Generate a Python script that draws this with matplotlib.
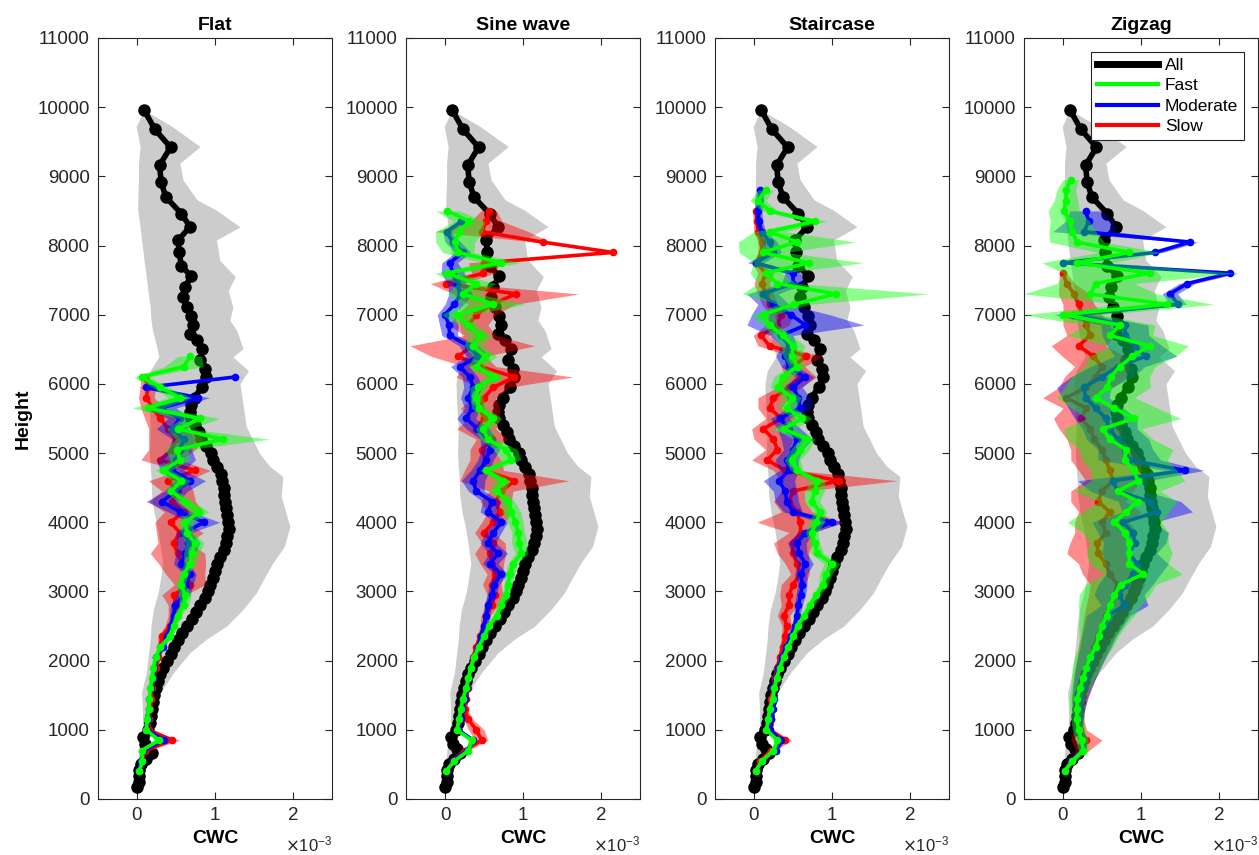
import numpy as np
import matplotlib
matplotlib.use("Agg")
import matplotlib.pyplot as plt
from matplotlib.lines import Line2D

plt.rcParams['font.family'] = ['Liberation Sans', 'DejaVu Sans']

# CWC values are in units of 1e-3

# ---- "All" profile (same in every panel) ----
h_all = [170, 250, 330, 420, 500, 580, 670, 720, 800, 900, 1000, 1100, 1200, 1300, 1400,
         1500, 1600, 1700, 1800, 1900, 2000, 2100, 2200, 2300, 2400, 2500, 2600, 2700, 2800,
         2900, 3000, 3100, 3200, 3300, 3400, 3500, 3600, 3700, 3800, 3900, 4000, 4100, 4200,
         4300, 4400, 4500, 4600, 4700, 4800, 4900, 5000, 5100, 5200, 5300, 5400, 5500, 5600,
         5700, 5800, 5960, 6100, 6220, 6340, 6510, 6630, 6720, 6850, 6980, 7110, 7260, 7400,
         7560, 7710, 7900, 8080, 8270, 8460, 8700, 8920, 9160, 9420, 9680, 9960]
cwc_all = [0.00, 0.02, 0.03, 0.02, 0.05, 0.12, 0.19, 0.15, 0.10, 0.08, 0.14, 0.17, 0.18, 0.19, 0.20,
           0.22, 0.24, 0.27, 0.30, 0.33, 0.38, 0.43, 0.48, 0.53, 0.58, 0.64, 0.70, 0.76, 0.81,
           0.87, 0.91, 0.94, 0.97, 1.00, 1.02, 1.06, 1.11, 1.14, 1.16, 1.18, 1.17, 1.15, 1.14,
           1.13, 1.12, 1.11, 1.09, 1.08, 1.02, 0.98, 0.95, 0.88, 0.82, 0.80, 0.74, 0.69, 0.68,
           0.69, 0.74, 0.83, 0.89, 0.87, 0.81, 0.84, 0.77, 0.68, 0.72, 0.69, 0.64, 0.59, 0.62,
           0.69, 0.57, 0.54, 0.53, 0.68, 0.57, 0.37, 0.31, 0.29, 0.43, 0.23, 0.09]

# grey envelope of "All"
h_band = [190, 530, 770, 1060, 1300, 1540, 1830, 2115, 2310, 2500, 2740, 2980, 3170, 3410,
          3650, 3940, 4135, 4375, 4660, 4810, 5000, 5385, 5700, 6000, 6190, 6390, 6510, 6770,
          6920, 7110, 7350, 7550, 7790, 8080, 8270, 8510, 8660, 8950, 9190, 9430, 9720, 9960]
band_lo = [-0.02, 0.01, 0.03, 0.07, 0.07, 0.06, 0.12, 0.15, 0.17, 0.18, 0.21, 0.27, 0.30, 0.33,
           0.30, 0.26, 0.22, 0.19, 0.18, 0.17, 0.16, 0.17, 0.15, 0.14, 0.17, 0.28, 0.26, 0.20,
           0.18, 0.17, 0.14, 0.12, 0.09, 0.06, 0.04, 0.01, 0.01, 0.02, 0.02, 0.04, -0.01, 0.09]
band_hi = [0.02, 0.09, 0.13, 0.13, 0.21, 0.30, 0.47, 0.68, 0.89, 1.15, 1.36, 1.53, 1.62, 1.74,
           1.89, 1.96, 1.91, 1.85, 1.87, 1.70, 1.57, 1.40, 1.36, 1.32, 1.43, 1.23, 1.36, 1.28,
           1.19, 1.23, 1.17, 1.26, 1.06, 1.02, 1.32, 1.02, 0.77, 0.59, 0.55, 0.81, 0.45, 0.09]

# ---- speed groups: mean and spread on 150 m levels starting at 400 m ----
h_speed = np.arange(400, 9100, 150)

flat_fast = [0.03, 0.07, 0.06, 0.28, 0.12, 0.13, 0.15, 0.16, 0.17, 0.19,
             0.21, 0.24, 0.30, 0.42, 0.47, 0.52, 0.60, 0.62, 0.56, 0.60,
             0.68, 0.70, 0.74, 0.64, 0.62, 0.80, 0.62, 0.44, 0.57, 0.34,
             0.55, 0.51, 1.10, 0.53, 0.81, 0.14, 0.55, 0.30, 0.06, 0.60,
             0.68]
flat_fast_sd = [0.01, 0.02, 0.02, 0.05, 0.02, 0.02, 0.02, 0.02, 0.02, 0.03,
                0.03, 0.03, 0.03, 0.04, 0.04, 0.05, 0.06, 0.08, 0.06, 0.05,
                0.08, 0.10, 0.12, 0.08, 0.10, 0.12, 0.10, 0.08, 0.12, 0.10,
                0.12, 0.15, 0.60, 0.15, 0.25, 0.20, 0.15, 0.10, 0.10, 0.25,
                0.15]
flat_mod = [0.02, 0.05, 0.08, 0.35, 0.13, 0.14, 0.15, 0.16, 0.18, 0.20,
            0.22, 0.25, 0.33, 0.38, 0.44, 0.47, 0.49, 0.60, 0.62, 0.68,
            0.57, 0.62, 0.66, 0.60, 0.86, 0.55, 0.32, 0.50, 0.68, 0.45,
            0.50, 0.55, 0.60, 0.45, 0.55, 0.30, 0.78, 0.12, 1.26]
flat_mod_sd = [0.01, 0.02, 0.02, 0.04, 0.02, 0.02, 0.02, 0.02, 0.02, 0.03,
               0.03, 0.03, 0.03, 0.04, 0.04, 0.05, 0.06, 0.08, 0.10, 0.08,
               0.10, 0.12, 0.15, 0.10, 0.20, 0.15, 0.20, 0.15, 0.20, 0.15,
               0.25, 0.15, 0.15, 0.20, 0.15, 0.20, 0.15, 0.10, 0.10]
flat_slow = [0.03, 0.06, 0.10, 0.45, 0.15, 0.15, 0.17, 0.18, 0.19, 0.21,
             0.24, 0.27, 0.30, 0.32, 0.42, 0.48, 0.50, 0.47, 0.68, 0.62,
             0.58, 0.52, 0.47, 0.55, 0.43, 0.60, 0.45, 0.52, 0.40, 0.74,
             0.30, 0.45, 0.50, 0.40, 0.30, 0.20, 0.12, 0.14, 0.10]
flat_slow_sd = [0.01, 0.02, 0.05, 0.10, 0.03, 0.02, 0.02, 0.02, 0.02, 0.03,
                0.03, 0.03, 0.04, 0.05, 0.06, 0.08, 0.10, 0.15, 0.20, 0.25,
                0.30, 0.35, 0.20, 0.30, 0.20, 0.25, 0.30, 0.20, 0.25, 0.20,
                0.25, 0.30, 0.35, 0.25, 0.20, 0.15, 0.10, 0.10, 0.05]

sine_fast = [0.01, 0.12, 0.30, 0.34, 0.15, 0.18, 0.20, 0.23, 0.27, 0.30,
             0.33, 0.37, 0.43, 0.50, 0.56, 0.66, 0.72, 0.78, 0.81, 0.83,
             0.87, 0.98, 0.95, 0.94, 0.90, 0.85, 0.81, 0.66, 0.74, 0.53,
             0.85, 0.78, 0.55, 0.49, 0.61, 0.44, 0.40, 0.42, 0.64, 0.40,
             0.51, 0.36, 0.45, 0.30, 0.15, 0.62, 0.23, 0.40, 0.02, 0.72,
             0.17, 0.13, 0.18, 0.31, 0.03]
sine_fast_sd = [0.01, 0.02, 0.03, 0.04, 0.02, 0.02, 0.02, 0.02, 0.02, 0.02,
                0.02, 0.03, 0.03, 0.03, 0.04, 0.04, 0.05, 0.05, 0.05, 0.06,
                0.06, 0.08, 0.10, 0.08, 0.10, 0.12, 0.08, 0.10, 0.10, 0.08,
                0.12, 0.15, 0.10, 0.10, 0.12, 0.10, 0.08, 0.10, 0.12, 0.10,
                0.15, 0.12, 0.15, 0.10, 0.20, 0.40, 0.20, 0.25, 0.15, 0.25,
                0.20, 0.25, 0.30, 0.20, 0.15]
sine_mod = [0.02, 0.10, 0.28, 0.36, 0.17, 0.20, 0.22, 0.25, 0.28, 0.30,
            0.33, 0.37, 0.42, 0.46, 0.50, 0.53, 0.55, 0.60, 0.63, 0.72,
            0.58, 0.68, 0.55, 0.62, 0.72, 0.55, 0.60, 0.40, 0.36, 0.45,
            0.52, 0.58, 0.55, 0.42, 0.27, 0.35, 0.30, 0.36, 0.32, 0.19,
            0.42, 0.30, 0.06, 0.05, 0.00, 0.12, 0.20, 0.15, 0.10, 0.06,
            0.23, 0.10, 0.02, 0.21]
sine_mod_sd = [0.01, 0.02, 0.03, 0.04, 0.02, 0.02, 0.02, 0.02, 0.02, 0.02,
               0.02, 0.03, 0.03, 0.03, 0.04, 0.04, 0.05, 0.06, 0.06, 0.08,
               0.10, 0.12, 0.10, 0.10, 0.08, 0.10, 0.12, 0.10, 0.15, 0.12,
               0.10, 0.12, 0.10, 0.15, 0.12, 0.10, 0.10, 0.12, 0.10, 0.12,
               0.15, 0.12, 0.10, 0.12, 0.10, 0.12, 0.15, 0.12, 0.15, 0.10,
               0.10, 0.10, 0.05, 0.05]
sine_slow = [0.02, 0.10, 0.25, 0.47, 0.40, 0.30, 0.25, 0.27, 0.29, 0.30,
             0.33, 0.36, 0.40, 0.45, 0.50, 0.52, 0.60, 0.64, 0.60, 0.64,
             0.60, 0.58, 0.62, 0.50, 0.62, 0.70, 0.65, 0.72, 0.89, 0.50,
             0.52, 0.47, 0.60, 0.40, 0.50, 0.45, 0.50, 0.62, 0.89, 0.45,
             0.17, 0.35, 0.45, 0.30, 0.40, 0.60, 0.91, 0.01, 0.49, 0.50,
             2.15, 1.25, 0.47, 0.53, 0.56]
sine_slow_sd = [0.01, 0.02, 0.05, 0.08, 0.10, 0.06, 0.03, 0.02, 0.02, 0.02,
                0.03, 0.03, 0.03, 0.04, 0.05, 0.06, 0.08, 0.10, 0.12, 0.10,
                0.15, 0.20, 0.15, 0.12, 0.15, 0.15, 0.20, 0.15, 0.70, 0.25,
                0.20, 0.15, 0.20, 0.25, 0.20, 0.25, 0.15, 0.20, 0.75, 0.20,
                0.35, 0.80, 0.20, 0.25, 0.25, 0.30, 0.80, 0.20, 0.15, 0.20,
                0.05, 0.10, 0.60, 0.20, 0.10]

stair_fast = [0.02, 0.10, 0.25, 0.30, 0.16, 0.18, 0.20, 0.24, 0.26, 0.29,
              0.33, 0.38, 0.44, 0.50, 0.56, 0.64, 0.72, 0.80, 0.89, 0.92,
              1.00, 0.81, 0.78, 0.74, 0.80, 0.85, 0.74, 0.78, 0.81, 0.55,
              0.49, 0.59, 0.68, 0.38, 0.62, 0.42, 0.49, 0.31, 0.37, 0.55,
              0.49, 0.50, 0.37, 0.20, 0.11, 0.51, 1.05, 0.30, 0.15, 0.70,
              0.11, 0.55, 0.20, 0.78, 0.20, 0.05, 0.15]
stair_fast_sd = [0.01, 0.02, 0.03, 0.04, 0.02, 0.02, 0.02, 0.02, 0.02, 0.02,
                 0.02, 0.03, 0.03, 0.03, 0.04, 0.04, 0.05, 0.05, 0.06, 0.08,
                 0.10, 0.08, 0.06, 0.08, 0.10, 0.08, 0.10, 0.12, 0.10, 0.08,
                 0.10, 0.12, 0.10, 0.15, 0.12, 0.10, 0.12, 0.10, 0.12, 0.10,
                 0.12, 0.15, 0.12, 0.10, 0.15, 0.20, 1.20, 0.25, 0.20, 0.70,
                 0.30, 0.75, 0.20, 0.15, 0.10, 0.10, 0.10]
stair_mod = [0.02, 0.10, 0.28, 0.35, 0.20, 0.22, 0.25, 0.26, 0.25, 0.28,
             0.31, 0.36, 0.41, 0.47, 0.52, 0.55, 0.57, 0.60, 0.62, 0.60,
             0.66, 0.58, 0.55, 0.66, 1.00, 0.50, 0.42, 0.40, 0.32, 0.45,
             0.42, 0.50, 0.55, 0.45, 0.33, 0.59, 0.57, 0.50, 0.65, 0.45,
             0.40, 0.45, 0.35, 0.66, 0.47, 0.25, 0.11, 0.50, 0.50, 0.02,
             0.25, 0.20, 0.10, 0.06, 0.05, 0.07, 0.08]
stair_mod_sd = [0.01, 0.02, 0.03, 0.04, 0.02, 0.02, 0.02, 0.02, 0.02, 0.02,
                0.02, 0.03, 0.03, 0.03, 0.04, 0.04, 0.05, 0.06, 0.06, 0.08,
                0.10, 0.10, 0.12, 0.10, 0.15, 0.12, 0.15, 0.15, 0.20, 0.12,
                0.15, 0.12, 0.20, 0.15, 0.12, 0.15, 0.15, 0.12, 0.12, 0.10,
                0.12, 0.10, 0.15, 0.75, 0.50, 0.20, 0.20, 0.15, 0.10, 0.10,
                0.10, 0.10, 0.05, 0.05, 0.05, 0.05, 0.05]
stair_slow = [0.02, 0.08, 0.22, 0.40, 0.20, 0.22, 0.20, 0.22, 0.25, 0.27,
              0.30, 0.33, 0.37, 0.40, 0.42, 0.38, 0.45, 0.45, 0.50, 0.59,
              0.55, 0.50, 0.50, 0.60, 0.59, 0.55, 0.45, 0.50, 1.09, 0.40,
              0.17, 0.30, 0.25, 0.12, 0.35, 0.20, 0.25, 0.45, 0.60, 0.50,
              0.67, 0.20, 0.09, 0.30, 0.35, 0.20, 0.15, 0.10, 0.15, 0.03,
              0.10, 0.10, 0.05, 0.04, 0.03]
stair_slow_sd = [0.01, 0.02, 0.05, 0.08, 0.05, 0.03, 0.02, 0.02, 0.02, 0.03,
                 0.03, 0.03, 0.04, 0.05, 0.06, 0.08, 0.10, 0.12, 0.15, 0.12,
                 0.15, 0.20, 0.25, 0.15, 0.55, 0.20, 0.20, 0.15, 0.75, 0.15,
                 0.20, 0.15, 0.25, 0.15, 0.20, 0.15, 0.20, 0.15, 0.20, 0.15,
                 0.20, 0.15, 0.10, 0.15, 0.15, 0.10, 0.10, 0.10, 0.10, 0.05,
                 0.05, 0.05, 0.05, 0.05, 0.05]

zig_fast = [0.02, 0.12, 0.26, 0.24, 0.20, 0.18, 0.18, 0.18, 0.22, 0.26,
            0.30, 0.35, 0.42, 0.46, 0.50, 0.56, 0.60, 0.66, 0.74, 1.03,
            0.85, 0.85, 0.85, 0.80, 0.66, 0.81, 0.96, 0.70, 0.96, 0.91,
            0.79, 0.81, 0.60, 0.51, 0.91, 0.66, 0.42, 0.57, 0.61, 0.73,
            0.89, 1.11, 0.60, 0.73, 0.00, 1.33, 0.35, 0.42, 1.11, 0.18,
            0.85, 0.18, 0.12, 0.09, 0.01, 0.04, 0.04, 0.10]
zig_fast_sd = [0.02, 0.04, 0.06, 0.08, 0.08, 0.08, 0.09, 0.10, 0.12, 0.15,
               0.18, 0.20, 0.22, 0.25, 0.30, 0.35, 0.40, 0.45, 0.45, 0.50,
               0.50, 0.55, 0.50, 0.55, 0.60, 0.55, 0.50, 0.55, 0.60, 0.55,
               0.55, 0.60, 0.55, 0.50, 0.60, 0.55, 0.50, 0.55, 0.50, 0.45,
               0.55, 0.50, 0.55, 0.45, 0.50, 0.60, 0.85, 0.50, 1.10, 0.45,
               0.40, 0.35, 0.30, 0.25, 0.20, 0.15, 0.12, 0.10]
zig_mod = [0.02, 0.10, 0.25, 0.25, 0.20, 0.19, 0.20, 0.21, 0.24, 0.28,
           0.32, 0.37, 0.42, 0.46, 0.52, 0.58, 0.79, 0.72, 0.80, 0.90,
           0.95, 0.85, 0.92, 0.90, 0.77, 1.21, 1.11, 0.70, 0.64, 1.56,
           0.85, 0.80, 0.70, 0.60, 0.55, 0.42, 0.29, 0.27, 0.50, 0.70,
           1.06, 0.92, 0.80, 0.79, 0.13, 1.48, 1.37, 1.59, 2.14, 0.00,
           1.18, 1.63, 0.27, 0.33, 0.29]
zig_mod_sd = [0.02, 0.03, 0.05, 0.06, 0.06, 0.07, 0.08, 0.10, 0.12, 0.14,
              0.16, 0.18, 0.20, 0.22, 0.25, 0.28, 0.30, 0.32, 0.35, 0.35,
              0.40, 0.35, 0.40, 0.45, 0.40, 0.45, 0.40, 0.35, 0.45, 0.25,
              0.40, 0.35, 0.40, 0.35, 0.40, 0.35, 0.30, 0.35, 0.40, 0.35,
              0.40, 0.35, 0.30, 0.30, 0.25, 0.10, 0.10, 0.10, 0.10, 0.05,
              0.10, 0.10, 0.40, 0.30, 0.20]
zig_slow = [0.02, 0.10, 0.25, 0.30, 0.22, 0.20, 0.20, 0.22, 0.25, 0.28,
            0.32, 0.36, 0.40, 0.45, 0.50, 0.55, 0.60, 0.65, 0.70, 0.60,
            0.55, 0.45, 0.44, 0.55, 0.50, 0.60, 0.45, 0.50, 0.64, 0.60,
            0.55, 0.50, 0.40, 0.35, 0.23, 0.30, 0.04, 0.30, 0.42, 0.50,
            0.39, 0.20, 0.35, 0.30, 0.25, 0.20, 0.14, 0.05, 0.00]
zig_slow_sd = [0.02, 0.04, 0.08, 0.20, 0.08, 0.07, 0.08, 0.10, 0.12, 0.14,
               0.16, 0.18, 0.20, 0.22, 0.25, 0.28, 0.30, 0.32, 0.35, 0.35,
               0.35, 0.40, 0.35, 0.40, 0.35, 0.40, 0.35, 0.40, 0.35, 0.40,
               0.45, 0.40, 0.35, 0.40, 0.35, 0.30, 0.30, 0.35, 0.40, 0.35,
               0.40, 0.35, 0.30, 0.30, 0.25, 0.20, 0.20, 0.10, 0.05]

titles = ["Flat", "Sine wave", "Staircase", "Zigzag"]
speeds = ["Fast", "Moderate", "Slow"]
colors = {"Fast": (0, 1, 0), "Moderate": (0, 0, 1), "Slow": (1, 0, 0)}

series = {
    "Flat": {"Fast": (flat_fast, flat_fast_sd), "Moderate": (flat_mod, flat_mod_sd),
             "Slow": (flat_slow, flat_slow_sd)},
    "Sine wave": {"Fast": (sine_fast, sine_fast_sd), "Moderate": (sine_mod, sine_mod_sd),
                  "Slow": (sine_slow, sine_slow_sd)},
    "Staircase": {"Fast": (stair_fast, stair_fast_sd), "Moderate": (stair_mod, stair_mod_sd),
                  "Slow": (stair_slow, stair_slow_sd)},
    "Zigzag": {"Fast": (zig_fast, zig_fast_sd), "Moderate": (zig_mod, zig_mod_sd),
               "Slow": (zig_slow, zig_slow_sd)},
}

ink = "#262626"
fig = plt.figure(figsize=(12.59, 8.55), dpi=100)
lefts = [0.0778, 0.3225, 0.5679, 0.8133]

for i, name in enumerate(titles):
    ax = fig.add_axes([lefts[i], 0.0655, 0.1859, 0.8901])

    ax.fill_betweenx(h_band, band_lo, band_hi, color="#cccccc", lw=0, zorder=1)
    ax.plot(cwc_all, h_all, color="k", lw=4, marker="o", ms=8, mec="k", zorder=2)

    # slow drawn first so fast ends up on top
    z = 3
    for sp in ["Slow", "Moderate", "Fast"]:
        m, sd = series[name][sp]
        m = np.array(m)
        sd = np.array(sd)
        h = h_speed[:len(m)]
        ax.fill_betweenx(h, m - sd, m + sd, color=colors[sp], alpha=0.45, lw=0, zorder=z)
        ax.plot(m, h, color=colors[sp], lw=2.6, marker="o", ms=4.5, mec=colors[sp], zorder=z + 1)
        z += 2

    ax.set_xlim(-0.5, 2.5)
    ax.set_ylim(0, 11000)
    ax.set_xticks([0, 1, 2])
    ax.set_yticks(np.arange(0, 11001, 1000))
    ax.tick_params(direction="in", top=True, right=True, length=5, width=0.8,
                   labelsize=13.5, color=ink, labelcolor=ink, pad=6)
    for s in ax.spines.values():
        s.set_color(ink)
        s.set_linewidth(0.8)
    ax.set_title(name, fontsize=14, fontweight="bold", pad=6)
    ax.set_xlabel("CWC", fontsize=14, fontweight="bold", labelpad=4)
    ax.text(1.0, -0.06, r"$\times\mathregular{10^{-3}}$", transform=ax.transAxes,
            ha="right", va="center", fontsize=12, color=ink)
    if i == 0:
        ax.set_ylabel("Height", fontsize=14, fontweight="bold")

    if name == "Zigzag":
        handles = [Line2D([], [], color="k", lw=5)] + \
                  [Line2D([], [], color=colors[sp], lw=3) for sp in speeds]
        leg = ax.legend(handles, ["All"] + speeds, loc="upper right", fontsize=12.5,
                        frameon=True, fancybox=False, framealpha=1, edgecolor=ink,
                        handlelength=3.5, labelspacing=0.3, borderaxespad=0.8,
                        handletextpad=0.4, borderpad=0.35)
        leg.get_frame().set_linewidth(0.8)

fig.savefig("out.png", dpi=100)
